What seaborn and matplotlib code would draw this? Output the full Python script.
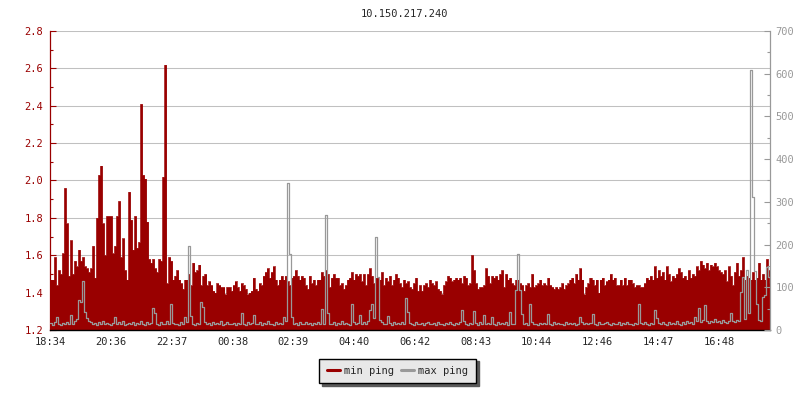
import numpy as np
import pandas as pd
import matplotlib
matplotlib.use('Agg')
import matplotlib.pyplot as plt
from matplotlib.lines import Line2D
from matplotlib.ticker import MultipleLocator, FormatStrFormatter
import seaborn as sns

# data (one sample every 4 minutes, starting 18:34)
title = '10.150.217.240'
step_min = 4
tick_minutes = [0, 122, 243, 364, 485, 606, 728, 849, 970, 1092, 1213, 1334]
tick_labels = ['18:34', '20:36', '22:37', '00:38', '02:39', '04:40',
               '06:42', '08:43', '10:44', '12:46', '14:47', '16:48']

min_ping = [
    1.47, 1.47, 1.59, 1.44, 1.52, 1.50, 1.61, 1.96, 1.77, 1.49,
    1.68, 1.50, 1.57, 1.54, 1.63, 1.57, 1.59, 1.54, 1.53, 1.51,
    1.53, 1.65, 1.48, 1.80, 2.03, 2.08, 1.77, 1.60, 1.81, 1.81,
    1.81, 1.61, 1.65, 1.81, 1.89, 1.59, 1.69, 1.52, 1.47, 1.94,
    1.79, 1.63, 1.81, 1.64, 1.67, 2.41, 2.03, 2.01, 1.78, 1.58,
    1.56, 1.58, 1.53, 1.51, 1.58, 1.57, 2.02, 2.62, 1.45, 1.59,
    1.57, 1.47, 1.49, 1.52, 1.47, 1.45, 1.42, 1.47, 1.47, 1.50,
    1.44, 1.56, 1.51, 1.52, 1.55, 1.44, 1.49, 1.50, 1.44, 1.46,
    1.44, 1.41, 1.40, 1.45, 1.44, 1.43, 1.43, 1.39, 1.43, 1.43,
    1.41, 1.44, 1.46, 1.43, 1.41, 1.45, 1.44, 1.42, 1.39, 1.40,
    1.41, 1.48, 1.42, 1.41, 1.45, 1.44, 1.49, 1.51, 1.53, 1.48,
    1.51, 1.54, 1.47, 1.44, 1.47, 1.49, 1.47, 1.49, 1.46, 1.44,
    1.48, 1.49, 1.52, 1.49, 1.47, 1.49, 1.48, 1.44, 1.42, 1.49,
    1.45, 1.47, 1.44, 1.47, 1.47, 1.51, 1.49, 1.52, 1.50, 1.43,
    1.48, 1.50, 1.48, 1.48, 1.44, 1.45, 1.42, 1.44, 1.47, 1.48,
    1.51, 1.47, 1.50, 1.49, 1.50, 1.46, 1.50, 1.44, 1.50, 1.53,
    1.49, 1.45, 1.48, 1.48, 1.47, 1.51, 1.44, 1.48, 1.46, 1.49,
    1.44, 1.47, 1.50, 1.48, 1.45, 1.43, 1.47, 1.45, 1.46, 1.43,
    1.42, 1.45, 1.48, 1.41, 1.44, 1.41, 1.44, 1.45, 1.43, 1.47,
    1.45, 1.44, 1.46, 1.42, 1.41, 1.39, 1.44, 1.46, 1.49, 1.48,
    1.46, 1.47, 1.48, 1.47, 1.48, 1.45, 1.49, 1.48, 1.44, 1.45,
    1.60, 1.52, 1.45, 1.42, 1.43, 1.43, 1.44, 1.53, 1.49, 1.45,
    1.49, 1.48, 1.49, 1.47, 1.50, 1.52, 1.43, 1.50, 1.47, 1.48,
    1.45, 1.44, 1.47, 1.47, 1.45, 1.44, 1.41, 1.44, 1.45, 1.43,
    1.50, 1.43, 1.44, 1.45, 1.47, 1.44, 1.45, 1.44, 1.48, 1.44,
    1.43, 1.42, 1.43, 1.42, 1.43, 1.45, 1.42, 1.44, 1.45, 1.47,
    1.48, 1.45, 1.50, 1.47, 1.53, 1.47, 1.39, 1.43, 1.45, 1.48,
    1.47, 1.44, 1.47, 1.40, 1.47, 1.48, 1.44, 1.46, 1.47, 1.50,
    1.47, 1.48, 1.44, 1.44, 1.47, 1.44, 1.48, 1.44, 1.47, 1.47,
    1.45, 1.43, 1.44, 1.44, 1.43, 1.43, 1.45, 1.48, 1.47, 1.49,
    1.47, 1.54, 1.48, 1.52, 1.49, 1.51, 1.47, 1.54, 1.50, 1.46,
    1.49, 1.48, 1.50, 1.53, 1.51, 1.48, 1.49, 1.47, 1.52, 1.48,
    1.50, 1.49, 1.54, 1.52, 1.57, 1.55, 1.53, 1.56, 1.52, 1.55,
    1.54, 1.56, 1.54, 1.52, 1.51, 1.50, 1.52, 1.46, 1.54, 1.49,
    1.44, 1.51, 1.56, 1.49, 1.52, 1.59, 1.47, 1.49, 1.48, 1.47,
    1.51, 1.47, 1.48, 1.56, 1.47, 1.50, 1.47, 1.58, 1.52, 1.53,
]

max_ping = [
    16, 12, 18, 31, 14, 12, 17, 13, 19, 15,
    36, 14, 20, 26, 70, 65, 115, 43, 28, 22,
    18, 14, 16, 12, 19, 15, 22, 13, 17, 14,
    12, 16, 31, 14, 18, 13, 20, 12, 15, 17,
    14, 19, 12, 16, 13, 21, 15, 12, 18, 14,
    16, 51, 39, 14, 12, 18, 15, 13, 20, 14,
    61, 17, 13, 15, 12, 18, 14, 31, 19, 197,
    33, 15, 12, 17, 14, 65, 55, 18, 13, 16,
    12, 19, 14, 16, 13, 20, 12, 15, 18, 14,
    13, 17, 12, 16, 14, 39, 15, 12, 19, 14,
    16, 36, 13, 15, 18, 12, 17, 14, 20, 13,
    15, 12, 18, 14, 16, 13, 31, 20, 345, 179,
    31, 14, 17, 12, 19, 15, 13, 18, 14, 16,
    12, 17, 15, 19, 13, 48, 14, 269, 39, 15,
    13, 18, 12, 16, 14, 20, 13, 17, 15, 12,
    60, 18, 14, 16, 35, 13, 19, 15, 22, 47,
    62, 28, 218, 125, 24, 18, 15, 13, 33, 16,
    12, 18, 14, 16, 13, 19, 15, 76, 43, 17,
    14, 12, 18, 15, 13, 17, 12, 16, 19, 14,
    13, 16, 12, 18, 14, 15, 12, 17, 13, 19,
    14, 12, 16, 13, 18, 47, 20, 15, 12, 17,
    14, 44, 16, 12, 18, 15, 34, 13, 17, 14,
    31, 15, 12, 18, 14, 16, 13, 19, 12, 41,
    15, 13, 94, 178, 94, 37, 14, 16, 12, 61,
    18, 13, 15, 12, 17, 14, 16, 13, 37, 15,
    12, 18, 14, 16, 13, 15, 12, 19, 14, 16,
    13, 17, 12, 15, 31, 18, 14, 16, 13, 17,
    37, 14, 12, 18, 15, 13, 16, 19, 14, 12,
    17, 13, 15, 18, 12, 16, 14, 19, 13, 15,
    12, 17, 14, 62, 16, 13, 18, 15, 12, 17,
    14, 47, 27, 16, 13, 19, 15, 12, 18, 14,
    16, 13, 20, 15, 12, 18, 14, 22, 17, 19,
    15, 31, 21, 51, 18, 24, 59, 20, 17, 22,
    19, 25, 18, 21, 16, 23, 19, 17, 20, 39,
    22, 18, 24, 20, 90, 125, 26, 140, 39, 608,
    312, 137, 62, 24, 20, 78, 82, 148, 125, 109,
]

red = '#990000'
grey = '#999999'

sns.set_style('white')
plt.rcParams['font.family'] = ['DejaVu Sans Mono']

df = pd.DataFrame({'minute': np.arange(len(min_ping)) * step_min,
                   'min_ping': min_ping,
                   'max_ping': max_ping})

fig = plt.figure(figsize=(8, 4), dpi=100)
ax = fig.add_axes([0.0625, 0.175, 0.9, 0.7475])

# min ping as a filled area on the left axis
ax.fill_between(df['minute'], 1.2, df['min_ping'], step='post', color=red, lw=0)
sns.lineplot(data=df, x='minute', y='min_ping', ax=ax, color=red, lw=0.5,
             drawstyle='steps-post', legend=False)

# max ping as a line on the right axis
ax2 = ax.twinx()
sns.lineplot(data=df, x='minute', y='max_ping', ax=ax2, color=grey, lw=0.9,
             drawstyle='steps-post', legend=False)

ax.set_xlim(0, df['minute'].iloc[-1])
ax.set_ylim(1.2, 2.8)
ax2.set_ylim(0, 700)
ax.set_xlabel('')
ax.set_ylabel('')
ax2.set_ylabel('')

ax.set_xticks(tick_minutes)
ax.set_xticklabels(tick_labels)
ax.yaxis.set_major_locator(MultipleLocator(0.2))
ax.yaxis.set_minor_locator(MultipleLocator(0.1))
ax.yaxis.set_major_formatter(FormatStrFormatter('%.1f'))
ax2.yaxis.set_major_locator(MultipleLocator(100))
ax2.yaxis.set_minor_locator(MultipleLocator(50))

ax.grid(axis='y', color='#c0c0c0', lw=0.75)
ax.grid(axis='x', visible=False)
ax.set_axisbelow(True)

ax.tick_params(axis='y', which='both', direction='in', color=red, labelcolor=red,
               width=0.8, labelsize=7.5, pad=5)
ax.tick_params(axis='y', which='major', length=4)
ax.tick_params(axis='y', which='minor', length=2.2)
ax.tick_params(axis='x', direction='in', color='black', length=3.5, width=0.8,
               labelsize=7.5, pad=5)
ax2.tick_params(axis='y', which='both', direction='in', color=grey, labelcolor=grey,
                width=0.8, labelsize=7.5, pad=4)
ax2.tick_params(axis='y', which='major', length=4)
ax2.tick_params(axis='y', which='minor', length=2.2)

for s in ['top', 'right']:
    ax.spines[s].set_visible(False)
ax.spines['left'].set_color(red)
ax.spines['left'].set_linewidth(0.9)
ax.spines['bottom'].set_color('black')
ax.spines['bottom'].set_linewidth(1.0)
for s in ['top', 'left', 'bottom']:
    ax2.spines[s].set_visible(False)
ax2.spines['right'].set_color(grey)
ax2.spines['right'].set_linewidth(0.9)

fig.text(0.505, 0.965, title, ha='center', va='center', fontsize=7.5)

handles = [Line2D([], [], color=red, lw=2.2), Line2D([], [], color=grey, lw=2.2)]
leg = fig.legend(handles, ['min ping', 'max ping'], loc='center',
                 bbox_to_anchor=(0.497, 0.073), ncol=2, frameon=True,
                 fancybox=False, shadow={'color': '#5a5a5a', 'alpha': 1},
                 facecolor='#e8e8e8', edgecolor='black', framealpha=1,
                 fontsize=7.5, handlelength=1.3, handletextpad=0.4,
                 columnspacing=0.6, borderpad=0.7)
leg.get_frame().set_linewidth(1.0)

fig.savefig('out.png', dpi=100)
